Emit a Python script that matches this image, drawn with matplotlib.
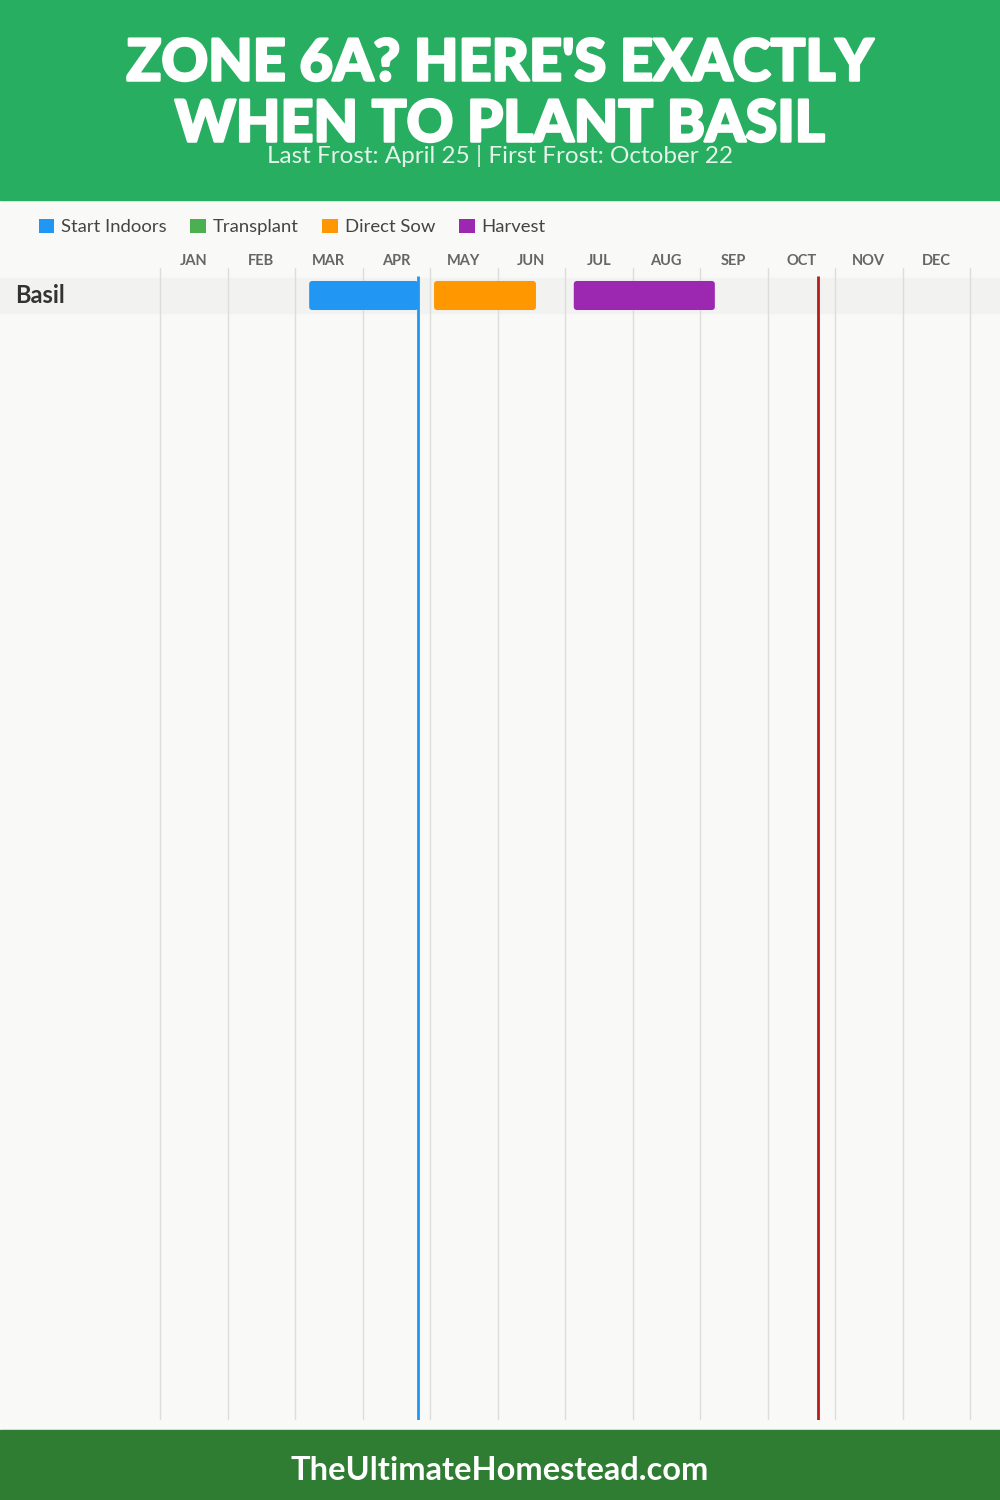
import matplotlib
matplotlib.use("Agg")
import matplotlib.pyplot as plt
import matplotlib.patheffects as pe
from matplotlib.patches import Rectangle, FancyBboxPatch, Patch

plt.rcParams['font.family'] = ['Lato', 'DejaVu Sans']

title_lines = ["ZONE 6A? HERE'S EXACTLY", "WHEN TO PLANT BASIL"]
subtitle = "Last Frost: April 25 | First Frost: October 22"
footer = "TheUltimateHomestead.com"

months = ['JAN', 'FEB', 'MAR', 'APR', 'MAY', 'JUN',
          'JUL', 'AUG', 'SEP', 'OCT', 'NOV', 'DEC']
crops = ['Basil']

# stages in month units (0 = Jan 1, 12 = Dec 31)
stage_names = ['Start Indoors', 'Transplant', 'Direct Sow', 'Harvest']
stage_colors = ['#2196F3', '#4CAF50', '#FF9800', '#9C27B0']
basil_start = [2.21, None, 4.06, 6.13]
basil_end = [3.83, None, 5.57, 8.22]

last_frost = 3.82
first_frost = 9.75

W, H = 1000, 1500
fig = plt.figure(figsize=(W / 100, H / 100), dpi=100)
fig.patch.set_facecolor('#F9F9F7')

# header / footer bands
fig.patches.append(Rectangle((0, 1 - 200 / H), 1, 200 / H, transform=fig.transFigure,
                             color='#27AE60', zorder=0))
fig.patches.append(Rectangle((0, 0), 1, 70 / H, transform=fig.transFigure,
                             color='#2E7D32', zorder=0))

heavy = [pe.withStroke(linewidth=1.8, foreground='white')]
fig.text(0.5, 1 - 64 / H, title_lines[0], ha='center', va='center', color='white',
         fontsize=41.5, fontweight='black', path_effects=heavy)
fig.text(0.5, 1 - 125 / H, title_lines[1], ha='center', va='center', color='white',
         fontsize=41.5, fontweight='black', path_effects=heavy)
fig.text(0.5, 1 - 156 / H, subtitle, ha='center', va='center', color='#E3F4EA',
         fontsize=17.5)
fig.text(0.5, 1 - 1471 / H, footer, ha='center', va='center', color='white',
         fontsize=23.5, fontweight='bold')

# legend
handles = [Patch(facecolor=c, edgecolor='none', label=n)
           for n, c in zip(stage_names, stage_colors)]
fig.legend(handles=handles, loc='center left', bbox_to_anchor=(0.022, 1 - 227 / H),
           ncol=4, frameon=False, fontsize=13.3, handlelength=0.85, handleheight=0.85,
           handletextpad=0.35, columnspacing=1.3, labelcolor='#444444')

# chart axes: full width, x scaled so months map onto 160..970 px
px_per_month = 67.5
ax_top, ax_bot = 268, 1420
ax = fig.add_axes([0, 1 - ax_bot / H, 1, (ax_bot - ax_top) / H])
ax.set_facecolor('none')
ax.set_xlim(-160 / px_per_month, 12 + 30 / px_per_month)
row_h = 35
rows_total = (ax_bot - ax_top) / row_h
top_off = 10 / row_h + 0.5
ax.set_ylim(rows_total - top_off, -top_off)
for s in ax.spines.values():
    s.set_visible(False)

ax.set_xticks([i + 0.5 for i in range(12)])
ax.set_xticklabels(months)
ax.xaxis.tick_top()
ax.tick_params(axis='x', length=0, pad=0, labelsize=10.5, labelcolor='#666666')
for lab in ax.get_xticklabels():
    lab.set_fontweight('bold')
ax.set_xticks(range(13), minor=True)
ax.tick_params(axis='x', which='minor', length=0)
ax.grid(True, which='minor', axis='x', color='#DDDDDD', linewidth=1, zorder=0)
ax.set_yticks([])

for i, crop in enumerate(crops):
    ax.axhspan(i - 0.5, i + 0.5, color='#F2F2F0', zorder=1)
    ax.text(-145 / px_per_month, i, crop, ha='left', va='center', fontsize=17,
            fontweight='bold', color='#333333', zorder=3)
    for s, e, c in zip(basil_start, basil_end, stage_colors):
        if s is None:
            continue
        bar_h = 0.83
        ax.add_patch(FancyBboxPatch((s, i - bar_h / 2), e - s, bar_h,
                                    boxstyle='round,pad=0,rounding_size=0.05',
                                    mutation_aspect=1.9, facecolor=c,
                                    edgecolor='none', zorder=2))

y_line_top = -0.5 - 2 / row_h
ax.vlines(last_frost, y_line_top, rows_total - top_off, color='#2196F3', linewidth=2, zorder=4)
ax.vlines(first_frost, y_line_top, rows_total - top_off, color='#B71C1C', linewidth=2, zorder=4)

fig.savefig('out.png', dpi=100, facecolor=fig.get_facecolor())
